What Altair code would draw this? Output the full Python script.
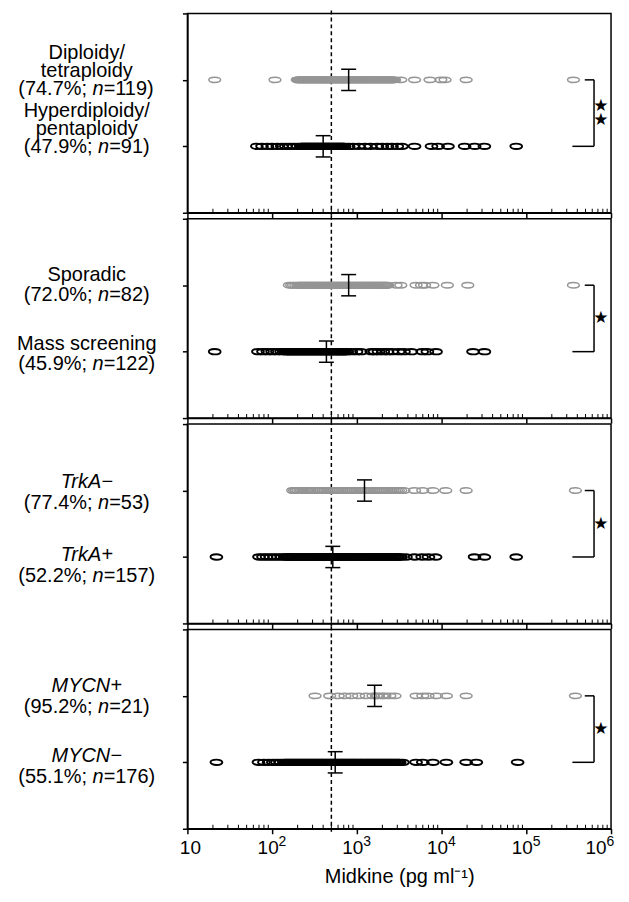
import altair as alt
import pandas as pd

# ---------------- data (pg/ml) ----------------
diploidy = [21, 108,
            198, 203, 207, 214, 217, 223, 229, 233, 240, 246, 250, 257, 263, 270, 274, 282, 289, 294,
            302, 309, 315, 324, 331, 337, 346, 355, 361, 370, 379, 387, 396, 404, 415, 423, 434, 445,
            452, 464, 476, 485, 498, 509, 520, 534, 547, 556, 571, 585, 597, 612, 626, 641, 654, 671,
            688, 702, 719, 737, 752, 771, 790, 806, 826, 846, 864, 886, 908, 927, 950, 973, 995, 1021,
            1046, 1068, 1095, 1122, 1146, 1174, 1203, 1229, 1259, 1290, 1318, 1350, 1383, 1412, 1447,
            1482, 1514, 1551, 1589, 1624, 1663, 1703, 1742, 1785, 1828, 1870, 1915, 1962, 2010, 2055,
            2104, 2156, 2208, 2260, 2315, 2370, 2428, 2485, 2545, 2604, 2667, 2730, 2795,
            3300, 4800, 7300, 9800, 11000, 19500, 360000]
hyperdiploidy = [66, 76, 88, 100, 115, 130, 145, 162, 180, 200,
                 218, 225, 231, 238, 246, 252, 260, 267, 275, 284, 291, 300, 309, 317, 327, 337, 346,
                 357, 367, 378, 390, 401, 412, 425, 437, 450, 464, 477, 491, 506, 521, 536, 552, 569,
                 586, 603, 620, 639, 658, 677, 698, 718,
                 800, 900, 1050, 1250, 1450, 1750, 2000, 2300, 2600, 3000, 3400,
                 4800, 7600, 9100, 11900, 18700, 24600, 32000, 76000]
sporadic = [160, 170, 179, 190, 201, 207, 213, 220, 226, 233, 240, 247, 254, 262, 270, 278, 286, 295,
            303, 313, 322, 332, 341, 352, 362, 373, 384, 396, 407, 420, 432, 445, 458, 472, 486, 501,
            515, 531, 547, 563, 580, 597, 615, 634, 652, 672, 692, 713, 734, 756, 779, 802, 826, 851,
            876, 902, 930, 957, 986, 1016, 1046, 1077, 1110, 1143, 1177, 1212, 1249, 1286, 1325, 1364,
            1405, 1447, 1490, 1535, 1581, 1628, 1677, 1727, 1778, 1832, 1886, 1943, 2001, 2061, 2122,
            2186, 2251, 2318,
            2900, 3300, 5000, 5800, 6300, 7900, 11700, 20400, 360000]
mass_screening = [21, 68, 78, 88, 100, 114, 128,
                  141, 146, 152, 158, 164, 170, 177, 183, 190, 197, 205, 212, 220, 228, 237, 245, 255,
                  264, 274, 284, 295, 306, 317, 329, 341, 354, 367, 381, 395, 410, 425, 441, 457, 474,
                  492, 510, 529, 549, 570, 591, 613, 636, 660, 684, 710, 724,
                  770, 860, 990, 1120, 1480, 1620, 1800, 2050, 2300, 2600, 3100, 3600, 4400,
                  5900, 6800, 8600, 23500, 32000]
trka_neg = [175, 184, 192, 201, 212, 222, 231, 243, 255, 268, 280, 296, 312, 330, 346, 362, 380, 401,
            422, 445, 468, 493, 520, 548, 575, 604, 636, 668, 703, 740, 778, 819, 862, 907, 955, 1005,
            1058, 1113, 1171, 1232, 1297, 1365, 1437, 1512, 1591, 1675, 1762, 1855, 1952, 2054, 2162,
            2275, 2394, 2520, 2652, 2790, 2937, 3090, 3300, 3600,
            4800, 6000, 7900, 11200, 19500, 380000]
trka_pos = [22, 70, 78, 86, 95, 105, 116, 128, 140, 146, 152, 158, 165, 172, 179, 186, 194, 202, 210,
            219, 228, 237, 247, 257, 268, 279, 290, 302, 315, 328, 341, 355, 370, 385, 401, 418, 435,
            453, 472, 491, 512, 533, 555, 578, 602, 627, 653, 680, 708, 737, 768, 800, 833, 867, 903,
            940, 980, 1020, 1060, 1110, 1150, 1200, 1250, 1300, 1360, 1410, 1470, 1530, 1600, 1660,
            1730, 1800, 1880, 1960, 2040, 2120, 2210, 2300, 2400, 2500, 2600, 2710, 2820, 2940, 3060,
            3190, 3320, 3800, 4800, 5900, 7000, 8500, 24500, 32000, 76000]
mycn_pos = [321, 478, 603, 723, 870, 1050, 1290, 1550, 1700, 1780, 2000, 2140, 2450, 2820,
            5000, 6000, 6900, 8700, 11400, 19500, 380000]
mycn_neg = [22, 69, 80, 91, 102, 114, 126, 138, 145, 151, 158, 165, 172, 180, 188, 196, 205, 214, 223,
            233, 243, 254, 265, 277, 289, 302, 315, 329, 343, 358, 374, 390, 407, 425, 444, 463, 484,
            505, 527, 550, 574, 599, 626, 653, 682, 712, 743, 776, 810, 845, 882, 921, 962, 1000, 1050,
            1100, 1140, 1190, 1250, 1300, 1360, 1420, 1480, 1550, 1610, 1680, 1760, 1830, 1910, 2000,
            2090, 2180, 2270, 2370, 2480, 2590, 2700, 2820, 2950, 3080, 3200, 3500, 5000, 6000, 7900,
            11400, 19500, 25700, 79000]

series = [diploidy, hyperdiploidy, sporadic, mass_screening, trka_neg, trka_pos, mycn_pos, mycn_neg]
medians = [800, 400, 800, 437, 1230, 520, 1620, 555]
cutoff = [500]

label_heads = [["Diploidy/", "tetraploidy"], ["Hyperdiploidy/", "pentaploidy"],
               ["Sporadic"], ["Mass screening"], ["TrkA−"], ["TrkA+"], ["MYCN+"], ["MYCN−"]]
head_italic = [False, False, False, False, True, True, True, True]
percents = ["74.7%", "47.9%", "72.0%", "45.9%", "77.4%", "52.2%", "95.2%", "55.1%"]
counts = [119, 91, 82, 122, 53, 157, 21, 176]
star_counts = [2, 1, 1, 1]

tick_values = [10, 100, 1000, 10000, 100000, 1000000]
tick_base = ["10", "10", "10", "10", "10", "10"]
exp_values = [100, 1000, 10000, 100000, 1000000]
exp_labels = ["2", "3", "4", "5", "6"]
minor_ticks = [m * d for d in [10, 100, 1000, 10000, 100000] for m in range(2, 10)]

bracket_top_start = 4.9e5
bracket_bottom_start = 3.5e5
bracket_x = 6.3e5
star_x = 7.6e5

# ---------------- styles ----------------
W, H = 425, 200
FONT = "Liberation Sans"
LBL_FS = 20
LABEL_CX = -101  # px, centre of the category labels relative to plot left
LINE_DY = [[-27, -9, 9], [-35, -17, 1], [-10, 10], [-8, 12], [-9, 13], [-2, 19], [-10, 11], [-6, 15]]
BASE_SHIFT = [3, -4, -4, -4, -4, -15]      # px shift of the "10" part of each tick label
EXP_SHIFT = [6.5, 6.5, 6.5, 6.5, -4.5]      # px position of the exponent's left edge
GRAY = "#959595"
ELLIPSE = ("M -1 0 C -1 -0.254 -0.552 -0.46 0 -0.46 C 0.552 -0.46 1 -0.254 1 0 "
           "C 1 0.254 0.552 0.46 0 0.46 C -0.552 0.46 -1 0.254 -1 0 Z")

ARIAL = {"(": 333, ")": 333, ".": 278, "%": 889, ";": 278, " ": 278, "n": 556, "=": 584}
for d in "0123456789":
    ARIAL[d] = 556


def text_w(s):
    return sum(ARIAL[c] for c in s) * LBL_FS / 1000.0


def px_to_x(px):
    return 10 ** (1 + px * 5.0 / W)


def shift_x(v, px):
    return v * 10 ** (px * 5.0 / W)


def py_to_y(row, dy):
    return row - dy * 3.0 / H


x_scale = alt.Scale(type="log", domain=[10, 1000000])
y_scale = alt.Scale(domain=[0, 3])


def xenc(field, last):
    if last:
        ax = alt.Axis(values=tick_values, labels=False, tickSize=5, tickWidth=1.5,
                      domainWidth=1.5, grid=False, title="Midkine (pg ml⁻¹)", titlePadding=32,
                      titleFontSize=20)
    else:
        ax = alt.Axis(values=tick_values, labels=False, tickSize=5, tickWidth=1.5,
                      domainWidth=1.5, grid=False, title=None)
    return alt.X(field, type="quantitative", scale=x_scale, axis=ax)


def yenc(field):
    return alt.Y(field, type="quantitative", scale=y_scale,
                 axis=alt.Axis(values=[0, 1, 2, 3], labels=False, tickSize=5, tickWidth=1.5,
                               domainWidth=1.5, grid=False, title=None))


def make_panel(i):
    last = i == 3
    gi, bi = 2 * i, 2 * i + 1
    base = lambda df: alt.Chart(pd.DataFrame(df))

    cut = base({"v": cutoff}).mark_rule(strokeDash=[4, 3], strokeWidth=1.5, color="black").encode(
        x=xenc("v", last), y=alt.value(-3), y2=alt.value(H + 3))

    gray = base({"v": series[gi], "row": [2] * len(series[gi])}).mark_point(
        shape=ELLIPSE, size=140, filled=False, opacity=1, strokeWidth=1.5, color=GRAY).encode(
        x=xenc("v", last), y=yenc("row"))
    black = base({"v": series[bi], "row": [1] * len(series[bi])}).mark_point(
        shape=ELLIPSE, size=140, filled=False, opacity=1, strokeWidth=1.9, color="black").encode(
        x=xenc("v", last), y=yenc("row"))

    med = base({"v": [medians[gi], medians[bi]], "row": [2, 1]}).transform_calculate(
        lo="datum.row - 0.16", hi="datum.row + 0.16")
    med_rule = med.mark_rule(strokeWidth=1.5, color="black").encode(
        x=xenc("v", last), y=yenc("lo:Q"), y2="hi:Q")
    cap_lo = med.mark_tick(orient="horizontal", size=15, thickness=1.5, color="black", opacity=1).encode(
        x=xenc("v", last), y=yenc("lo:Q"))
    cap_hi = med.mark_tick(orient="horizontal", size=15, thickness=1.5, color="black", opacity=1).encode(
        x=xenc("v", last), y=yenc("hi:Q"))

    br = base({"x": [bracket_top_start, bracket_x, bracket_bottom_start],
               "x2": [bracket_x, bracket_x, bracket_x],
               "y": [2, 2, 1], "y2": [2, 1, 1]}).mark_rule(strokeWidth=1.5, color="black").encode(
        x=xenc("x", last), x2="x2:Q", y=yenc("y"), y2="y2:Q")

    ns = star_counts[i]
    star_y = [1.5 + 0.105 * (1 if ns == 2 and k == 0 else (-1 if ns == 2 else 0)) for k in range(ns)]
    stars = base({"x": [star_x] * ns, "y": star_y}).mark_text(
        text="★", font="DejaVu Sans", fontSize=17, color="black", baseline="middle").encode(
        x=xenc("x", last), y=yenc("y"))

    minor = base({"v": minor_ticks}).mark_tick(orient="vertical", size=4, thickness=1,
                                               color="black", opacity=1).encode(
        x=xenc("v", last), y=alt.value(H - 2))

    # category labels
    cen_norm, cen_ital, seg_norm, seg_ital = [], [], [], []
    for g, row in ((gi, 2), (bi, 1)):
        dys = LINE_DY[g]
        for k, line in enumerate(label_heads[g]):
            rec = {"t": line, "x": px_to_x(LABEL_CX), "y": py_to_y(row, dys[k])}
            (cen_ital if head_italic[g] else cen_norm).append(rec)
        a, b, c = "(" + percents[g] + "; ", "n", "=" + str(counts[g]) + ")"
        wa, wb, wc = text_w(a), text_w(b), text_w(c)
        left = LABEL_CX - (wa + wb + wc) / 2.0
        yy = py_to_y(row, dys[-1])
        seg_norm.append({"t": a, "x": px_to_x(left), "y": yy})
        seg_ital.append({"t": b, "x": px_to_x(left + wa), "y": yy})
        seg_norm.append({"t": c, "x": px_to_x(left + wa + wb), "y": yy})

    def txt(recs, align, style):
        props = dict(align=align, baseline="middle", font=FONT, fontSize=LBL_FS, color="black")
        if style:
            props["fontStyle"] = style
        return alt.Chart(pd.DataFrame(recs)).mark_text(**props).encode(
            x=xenc("x", last), y=yenc("y"), text="t:N")

    layers = [cut, gray, black, med_rule, cap_lo, cap_hi, br, stars, minor,
              txt(seg_norm, "left", None), txt(seg_ital, "left", "italic")]
    if cen_norm:
        layers.append(txt(cen_norm, "center", None))
    if cen_ital:
        layers.append(txt(cen_ital, "center", "italic"))
    if last:
        bases = base({"x": [shift_x(v, s) for v, s in zip(tick_values, BASE_SHIFT)],
                      "t": tick_base}).mark_text(
            align="center", baseline="top", font=FONT, fontSize=19, color="black").encode(
            x=xenc("x", last), y=alt.value(H + 10), text="t:N")
        exps = base({"x": [shift_x(v, s) for v, s in zip(exp_values, EXP_SHIFT)],
                     "t": exp_labels}).mark_text(
            align="left", baseline="top", font=FONT, fontSize=14, color="black").encode(
            x=xenc("x", last), y=alt.value(H + 6), text="t:N")
        layers += [bases, exps]
    return alt.layer(*layers).properties(width=W, height=H)


chart = alt.vconcat(*[make_panel(i) for i in range(4)], spacing=6, bounds="flush").properties(
    padding={"left": 8, "top": -1, "right": 5, "bottom": 0}
).configure_view(stroke="black", strokeWidth=1.5).configure_axis(
    domainColor="black", tickColor="black", labelColor="black", titleColor="black",
    labelFont=FONT, titleFont=FONT, labelFontSize=19, titleFontSize=20, titleFontWeight="normal"
)

chart.save("out.html", embed_options={"renderer": "svg", "actions": False})
